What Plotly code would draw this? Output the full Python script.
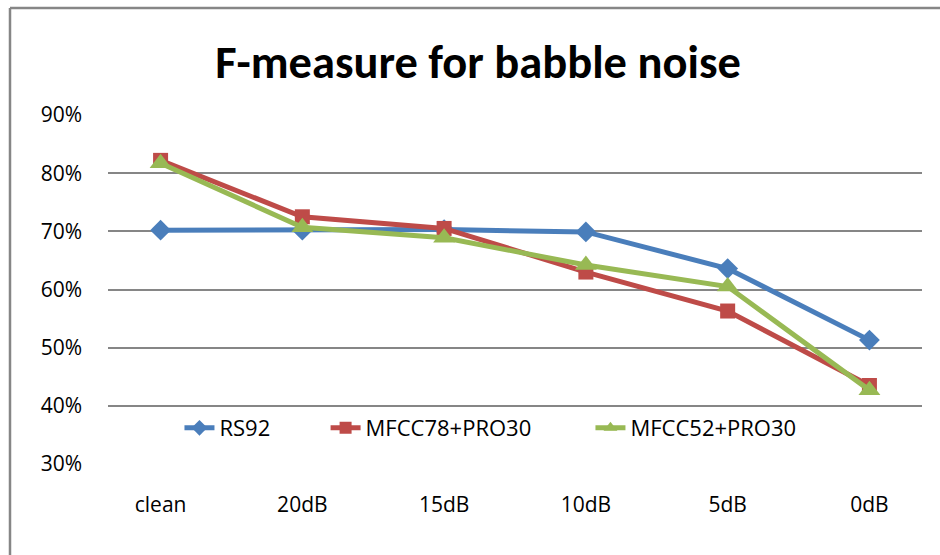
import plotly.graph_objects as go

# Noise conditions along the x axis
conditions = ["clean", "20dB", "15dB", "10dB", "5dB", "0dB"]

# F-measure (fraction) per feature set
rs92 = [0.702, 0.702, 0.703, 0.699, 0.636, 0.513]
mfcc78_pro30 = [0.822, 0.725, 0.705, 0.630, 0.563, 0.435]
mfcc52_pro30 = [0.817, 0.707, 0.689, 0.642, 0.605, 0.427]

y_ticks = [0.3, 0.4, 0.5, 0.6, 0.7, 0.8, 0.9]

TITLE_FONT = "Carlito, Calibri, Lato, sans-serif"
TEXT_FONT = "Open Sans, sans-serif"
GRID = "#868686"

fig = go.Figure()

# one legend per series so each entry can sit at its own x position
series = [
    ("RS92", rs92, "#4A7EBB", "diamond", 16, "legend", 0.0878),
    ("MFCC78+PRO30", mfcc78_pro30, "#BE4B48", "square", 15, "legend2", 0.2673),
    ("MFCC52+PRO30", mfcc52_pro30, "#98B954", "triangle-up", 19, "legend3", 0.5927),
]
legend_layouts = {}
for name, vals, color, symbol, msize, leg, lx in series:
    fig.add_trace(go.Scatter(
        x=conditions, y=vals, name=name, mode="lines+markers",
        line=dict(color=color, width=5),
        marker=dict(symbol=symbol, size=msize, color=color, line=dict(width=0)),
        legend=leg,
    ))
    legend_layouts[leg] = dict(
        orientation="h", x=lx, y=0.103, xanchor="left", yanchor="middle",
        bgcolor="rgba(0,0,0,0)", font=dict(size=22, family=TEXT_FONT),
        itemsizing="constant",
    )

# L-shaped chart-area frame (top and left edges)
fig.add_shape(type="line", xref="paper", yref="paper",
              x0=-0.1204, x1=1.03, y0=1.3066, y1=1.3066,
              line=dict(color=GRID, width=2.5))
fig.add_shape(type="line", xref="paper", yref="paper",
              x0=-0.1204, x1=-0.1204, y0=1.3066, y1=-0.27,
              line=dict(color=GRID, width=2.5))

fig.update_layout(
    width=940, height=555,
    margin=dict(l=108, r=18, t=115, b=91),
    paper_bgcolor="white", plot_bgcolor="white",
    font=dict(family=TEXT_FONT, color="#000000"),
    title=dict(text="<b>F-measure for babble noise</b>",
               x=478 / 940, xanchor="center", y=1 - 62 / 555, yanchor="middle",
               font=dict(size=46.5, family=TITLE_FONT)),
    showlegend=True,
    xaxis=dict(type="category", showgrid=False, showline=False, zeroline=False,
               ticks="", tickfont=dict(size=21), ticklabelstandoff=26),
    yaxis=dict(range=[0.3, 0.9], tickvals=y_ticks, tickformat=".0%",
               showgrid=True, gridcolor=GRID, gridwidth=1.5,
               zeroline=False, showline=False, ticks="",
               tickfont=dict(size=21), ticklabelstandoff=25),
    **legend_layouts,
)

fig.write_html("out.html")
